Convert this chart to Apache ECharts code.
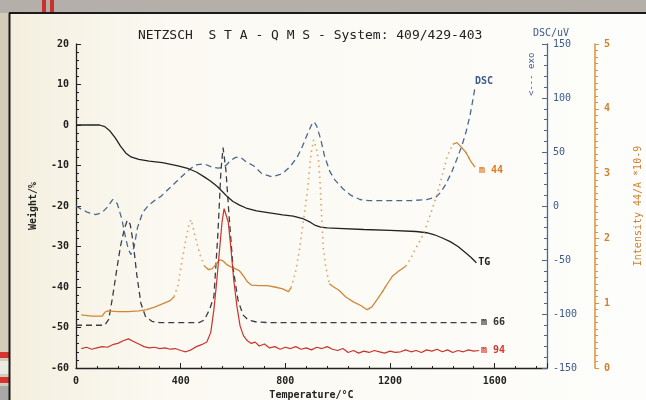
<!DOCTYPE html>
<html>
<head>
<meta charset="utf-8">
<script src="https://cdn.jsdelivr.net/npm/echarts@6/dist/echarts.min.js"></script>
<style>
  html, body { margin: 0; padding: 0; background: #bdb8ae; }
  #chart { width: 646px; height: 400px; }
</style>
</head>
<body>
<div id="chart"></div>
<script>
// TG (weight %, left axis)
var tgTemp = [0, 90, 110, 130, 150, 170, 190, 210, 240, 280, 330, 390, 430, 460, 490, 515, 540, 560, 580, 600, 625, 650, 690, 740, 790, 830, 870, 895, 915, 935, 960, 1000, 1100, 1200, 1300, 1340, 1370, 1400, 1430, 1460, 1490, 1510, 1530];
var tgWeight = [0, 0, -0.4, -1.5, -3.2, -5.2, -6.9, -7.9, -8.5, -8.9, -9.3, -10.1, -10.8, -11.6, -12.8, -13.9, -15.2, -16.5, -17.8, -18.9, -19.8, -20.5, -21.2, -21.7, -22.2, -22.5, -23.2, -24.0, -24.8, -25.2, -25.4, -25.5, -25.8, -26.0, -26.3, -26.6, -27.1, -27.9, -28.8, -30.0, -31.6, -32.7, -34.0];

// DSC (uV, right axis)
var dscTemp = [0, 20, 45, 75, 100, 120, 140, 158, 175, 190, 200, 210, 222, 235, 255, 275, 300, 325, 355, 390, 425, 455, 490, 520, 545, 560, 575, 590, 610, 630, 650, 680, 710, 750, 790, 820, 845, 865, 885, 900, 910, 920, 935, 950, 970, 990, 1020, 1050, 1085, 1120, 1160, 1220, 1280, 1340, 1375, 1395, 1415, 1435, 1455, 1475, 1490, 1505, 1515, 1525];
var dscSignal = [0, -3, -6, -8, -6, -1, 6, 2, -12, -30, -40, -45, -38, -20, -6, 0, 5, 9, 16, 24, 32, 38, 39, 36, 35, 36, 38, 42, 45, 45, 41, 37, 30, 27, 30, 37, 45, 55, 67, 75, 78, 74, 62, 46, 32, 24, 16, 10, 6, 5, 5, 5, 5, 6, 8, 13, 21, 31, 43, 56, 68, 83, 96, 110];

// ion currents (intensity axis)
var m44Temp = [20, 60, 100, 110, 120, 160, 200, 240, 270, 300, 330, 360, 375, 390, 405, 420, 432, 440, 450, 462, 475, 490, 505, 520, 535, 548, 560, 575, 592, 610, 625, 640, 655, 670, 700, 730, 760, 790, 812, 822, 840, 855, 870, 885, 898, 908, 918, 927, 933, 938, 945, 955, 968, 985, 1005, 1030, 1060, 1090, 1112, 1130, 1150, 1170, 1190, 1210, 1235, 1260, 1280, 1300, 1320, 1340, 1360, 1380, 1400, 1420, 1440, 1455, 1470, 1490, 1510, 1525];
var m44Signal = [0.82, 0.80, 0.80, 0.86, 0.88, 0.87, 0.87, 0.88, 0.90, 0.94, 0.99, 1.04, 1.10, 1.28, 1.65, 1.98, 2.22, 2.29, 2.12, 1.92, 1.74, 1.58, 1.52, 1.53, 1.60, 1.67, 1.66, 1.60, 1.56, 1.53, 1.50, 1.42, 1.33, 1.28, 1.27, 1.27, 1.25, 1.22, 1.18, 1.24, 1.50, 1.85, 2.30, 2.75, 3.30, 3.52, 3.40, 3.20, 2.85, 2.40, 1.85, 1.55, 1.30, 1.25, 1.20, 1.10, 1.02, 0.96, 0.90, 0.94, 1.05, 1.17, 1.30, 1.42, 1.50, 1.57, 1.70, 1.86, 2.00, 2.20, 2.44, 2.68, 2.98, 3.28, 3.45, 3.48, 3.42, 3.33, 3.18, 3.10];

var m66Temp = [0, 60, 110, 125, 140, 155, 170, 185, 196, 207, 218, 232, 248, 265, 290, 320, 380, 440, 470, 490, 510, 527, 542, 554, 562, 573, 585, 600, 619, 638, 658, 690, 740, 900, 1100, 1300, 1540];
var m66Signal = [0.66, 0.66, 0.66, 0.75, 1.10, 1.50, 1.88, 2.15, 2.28, 2.22, 1.95, 1.45, 1.00, 0.80, 0.72, 0.70, 0.70, 0.70, 0.70, 0.74, 0.90, 1.10, 2.05, 3.05, 3.40, 3.05, 2.35, 1.55, 1.05, 0.82, 0.74, 0.71, 0.70, 0.70, 0.70, 0.70, 0.70];

var m94Temp = [20, 40, 60, 80, 100, 120, 140, 160, 180, 200, 220, 240, 260, 280, 300, 320, 340, 360, 380, 400, 420, 440, 460, 480, 500, 515, 527, 537, 548, 558, 566, 573, 582, 592, 603, 615, 627, 640, 655, 670, 685, 700, 720, 740, 760, 780, 800, 820, 840, 860, 880, 900, 920, 940, 960, 980, 1000, 1020, 1040, 1060, 1080, 1100, 1120, 1140, 1160, 1180, 1200, 1220, 1240, 1260, 1280, 1300, 1320, 1340, 1360, 1380, 1400, 1420, 1440, 1460, 1480, 1500, 1520, 1540];
var m94Signal = [0.30, 0.32, 0.29, 0.31, 0.33, 0.32, 0.36, 0.38, 0.42, 0.45, 0.41, 0.37, 0.33, 0.31, 0.32, 0.30, 0.31, 0.29, 0.30, 0.27, 0.25, 0.28, 0.33, 0.36, 0.40, 0.55, 0.90, 1.30, 1.80, 2.25, 2.46, 2.45, 2.25, 1.85, 1.35, 0.95, 0.65, 0.50, 0.42, 0.38, 0.40, 0.34, 0.37, 0.31, 0.33, 0.29, 0.32, 0.30, 0.33, 0.29, 0.31, 0.28, 0.32, 0.30, 0.33, 0.29, 0.27, 0.30, 0.24, 0.27, 0.23, 0.26, 0.24, 0.27, 0.25, 0.23, 0.26, 0.24, 0.25, 0.28, 0.25, 0.27, 0.24, 0.28, 0.26, 0.29, 0.25, 0.28, 0.24, 0.27, 0.25, 0.28, 0.26, 0.27];

var MONO = '"DejaVu Sans Mono", monospace';

function pairs(t, v) {
  return t.map(function (x, i) { return [x, v[i]]; });
}

// m44 is a dense dot trace: steep parts look dotted, flat parts solid
var pxPerDeg = 471 / 1800, pxPerUnit = 324 / 5;
var m44Solid = [], m44Dots = [];
m44Temp.forEach(function (t) { m44Solid.push([t, '-']); m44Dots.push([t, '-']); });
for (var i = 0; i < m44Temp.length - 1; i++) {
  var dx = (m44Temp[i + 1] - m44Temp[i]) * pxPerDeg;
  var dy = Math.abs(m44Signal[i + 1] - m44Signal[i]) * pxPerUnit;
  var target = dy / dx > 1.6 ? m44Dots : m44Solid;
  target[i][1] = m44Signal[i];
  target[i + 1][1] = m44Signal[i + 1];
}

var chart = echarts.init(document.getElementById('chart'), null, { renderer: 'canvas' });

function endLab(text, color, offset) {
  return {
    show: true,
    formatter: text,
    color: color,
    fontFamily: MONO,
    fontSize: 10,
    fontWeight: 'bold',
    distance: 2,
    offset: offset || [0, 0]
  };
}

var option = {
  backgroundColor: '#bdb8ae',
  animation: false,
  title: {
    text: 'NETZSCH  S T A - Q M S - System: 409/429-403',
    left: 133,
    top: 24,
    textStyle: { fontFamily: MONO, fontSize: 13, fontWeight: 'normal', color: '#222' }
  },
  graphic: [
    { type: 'rect', z: -10, shape: { x: 0, y: 0, width: 10, height: 400 }, style: { fill: '#d3ccb8' } },
    { type: 'rect', z: -10, shape: { x: 0, y: 0, width: 646, height: 13 }, style: { fill: '#b4b0a9' } },
    { type: 'rect', z: -10, shape: { x: 42, y: 0, width: 4, height: 13 }, style: { fill: '#c8312c' } },
    { type: 'rect', z: -10, shape: { x: 50, y: 0, width: 4, height: 13 }, style: { fill: '#c8312c' } },
    { type: 'rect', z: -10, shape: { x: 0, y: 352, width: 10, height: 6 }, style: { fill: '#d8342e' } },
    { type: 'rect', z: -10, shape: { x: 0, y: 377, width: 10, height: 6 }, style: { fill: '#d8342e' } },
    { type: 'rect', z: -10, shape: { x: 0, y: 361, width: 10, height: 13 }, style: { fill: '#ece8e2' } },
    { type: 'rect', z: -10, shape: { x: 0, y: 386, width: 10, height: 14 }, style: { fill: '#a9a8a6' } },
    {
      type: 'rect', z: -9, shape: { x: 10, y: 13, width: 636, height: 387 },
      style: {
        fill: new echarts.graphic.LinearGradient(0, 0, 1, 0, [
          { offset: 0, color: '#f4efdf' },
          { offset: 0.25, color: '#fbf9f2' },
          { offset: 1, color: '#fdfdfb' }
        ])
      }
    },
    { type: 'line', z: -8, shape: { x1: 9.5, y1: 13, x2: 9.5, y2: 400 }, style: { stroke: '#1a1a1a', lineWidth: 2 } },
    { type: 'line', z: -8, shape: { x1: 9, y1: 13, x2: 646, y2: 13 }, style: { stroke: '#1a1a1a', lineWidth: 2 } },
    {
      type: 'text', x: 527, y: 96, rotation: Math.PI / 2,
      style: { text: '<--- exo', fill: '#3c5a8a', font: '9px ' + MONO }
    }
  ],
  grid: { left: 76, right: 99, top: 44, bottom: 32, containLabel: false, outerBoundsMode: 'none' },
  xAxis: {
    type: 'value',
    min: 0,
    max: 1800,
    interval: 400,
    name: 'Temperature/°C',
    nameLocation: 'middle',
    nameGap: 19,
    nameTextStyle: { fontFamily: MONO, fontSize: 10, fontWeight: 'bold', color: '#222' },
    axisLine: { onZero: false, lineStyle: { color: '#222', width: 1.3 } },
    axisTick: { inside: true, length: 5, lineStyle: { color: '#222' } },
    minorTick: { show: true, splitNumber: 5, length: 2, lineStyle: { color: '#222' } },
    splitLine: { show: false },
    axisLabel: {
      fontFamily: MONO, fontSize: 10, fontWeight: 'bold', color: '#222', margin: 8,
      formatter: function (v) { return v > 1600 ? '' : String(v); }
    }
  },
  yAxis: [
    {
      type: 'value',
      position: 'left',
      min: -60,
      max: 20,
      interval: 10,
      name: 'Weight/%',
      nameLocation: 'middle',
      nameRotate: 90,
      nameGap: 38,
      nameTextStyle: { fontFamily: MONO, fontSize: 10, fontWeight: 'bold', color: '#222' },
      axisLine: { show: true, onZero: false, lineStyle: { color: '#222', width: 1.3 } },
      axisTick: { inside: true, length: 5, lineStyle: { color: '#222' } },
      minorTick: { show: true, splitNumber: 5, length: 3, lineStyle: { color: '#222' } },
      splitLine: { show: false },
      axisLabel: { fontFamily: MONO, fontSize: 10, fontWeight: 'bold', color: '#222', margin: 7 }
    },
    {
      type: 'value',
      position: 'right',
      min: -150,
      max: 150,
      interval: 50,
      name: 'DSC/uV',
      nameLocation: 'end',
      nameGap: 6,
      nameTextStyle: { fontFamily: MONO, fontSize: 10, color: '#3c5a8a', align: 'center', padding: [0, 0, 0, 8] },
      axisLine: { show: true, onZero: false, lineStyle: { color: '#4a6890', width: 1.3 } },
      axisTick: { inside: true, length: 5, lineStyle: { color: '#4a6890' } },
      minorTick: { show: true, splitNumber: 5, length: 3, lineStyle: { color: '#4a6890' } },
      splitLine: { show: false },
      axisLabel: { fontFamily: MONO, fontSize: 10, color: '#3c5a8a', margin: 6 }
    },
    {
      type: 'value',
      position: 'right',
      offset: 48,
      min: 0,
      max: 5,
      interval: 1,
      name: 'Intensity 44/A *10-9',
      nameLocation: 'middle',
      nameRotate: 90,
      nameGap: 38,
      nameTextStyle: { fontFamily: MONO, fontSize: 10, color: '#d08030' },
      axisLine: { show: true, onZero: false, lineStyle: { color: '#d8953e', width: 1.5 } },
      axisTick: { inside: false, length: 4, lineStyle: { color: '#d8953e' } },
      minorTick: { show: true, splitNumber: 10, length: 3, lineStyle: { color: '#d8953e' } },
      splitLine: { show: false },
      axisLabel: { fontFamily: MONO, fontSize: 10, fontWeight: 'bold', color: '#d08030', margin: 9 }
    }
  ],
  series: [
    {
      name: 'm 66', type: 'line', yAxisIndex: 2, showSymbol: false,
      data: pairs(m66Temp, m66Signal),
      lineStyle: { color: '#3c3c46', width: 1.3, type: [6, 4] },
      endLabel: endLab('m 66', '#333')
    },
    {
      name: 'DSC', type: 'line', yAxisIndex: 1, showSymbol: false,
      data: pairs(dscTemp, dscSignal),
      lineStyle: { color: '#4a6890', width: 1.3, type: [6, 4] },
      endLabel: endLab('DSC', '#3c5a8a', [-2, -6])
    },
    {
      name: 'TG', type: 'line', yAxisIndex: 0, showSymbol: false,
      data: pairs(tgTemp, tgWeight),
      lineStyle: { color: '#222', width: 1.3 },
      endLabel: endLab('TG', '#222')
    },
    {
      name: 'm 44 dots', type: 'line', yAxisIndex: 2, showSymbol: false,
      data: m44Dots,
      lineStyle: { color: '#d9a264', width: 1.6, type: [1.5, 4] }
    },
    {
      name: 'm 44', type: 'line', yAxisIndex: 2, showSymbol: false,
      data: m44Solid,
      lineStyle: { color: '#d08838', width: 1.3 },
      endLabel: endLab('m 44', '#e07a20', [2, 3])
    },
    {
      name: 'm 94', type: 'line', yAxisIndex: 2, showSymbol: false,
      data: pairs(m94Temp, m94Signal),
      lineStyle: { color: '#c8352c', width: 1.2 },
      endLabel: endLab('m 94', '#d0382e')
    }
  ]
};

chart.setOption(option);
</script>
</body>
</html>
